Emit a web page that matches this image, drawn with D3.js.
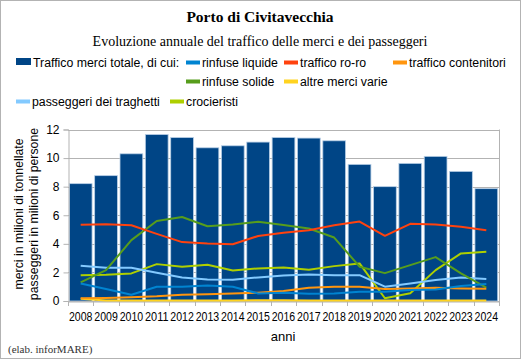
<!DOCTYPE html>
<html><head><meta charset="utf-8">
<script src="https://cdn.jsdelivr.net/npm/d3@7"></script>
<style>body{margin:0;background:#fff}svg{display:block}</style>
</head><body>
<svg id="c" width="521" height="359"></svg>
<script>
const years = ["2008","2009","2010","2011","2012","2013","2014","2015","2016","2017","2018","2019","2020","2021","2022","2023","2024"];
const totale = [8.21,8.77,10.30,11.65,11.44,10.72,10.86,11.12,11.44,11.40,11.21,9.56,8.00,9.63,10.12,9.07,7.86];
const liquide = [1.23,0.84,0.44,1.00,1.00,1.09,1.00,0.53,0.58,0.51,0.53,0.65,0.65,0.77,0.81,1.05,1.19];
const roro = [5.33,5.37,5.30,4.70,4.12,4.02,3.97,4.55,4.78,4.95,5.30,5.56,4.56,5.40,5.35,5.19,4.95];
const contenitori = [0.19,0.21,0.26,0.33,0.44,0.47,0.53,0.58,0.70,0.93,1.00,1.00,0.84,0.88,0.93,0.88,0.86];
const solide = [1.30,2.16,4.26,5.60,5.88,5.23,5.35,5.54,5.32,5.07,4.44,2.40,1.95,2.51,3.07,1.93,0.93];
const altre = [0.15,0.04,0.04,0.04,0.04,0.04,0.04,0.06,0.05,0.04,0.04,0.04,0.03,0.03,0.03,0.03,0.03];
const traghetti = [2.47,2.33,2.33,1.98,1.65,1.51,1.49,1.65,1.79,1.86,1.81,1.81,1.00,1.23,1.47,1.65,1.54];
const crocieristi = [1.81,1.83,1.93,2.58,2.40,2.54,2.14,2.28,2.34,2.19,2.44,2.63,0.19,0.54,2.16,3.33,3.44];
const yTicks = [0,2,4,6,8,10,12];

const seriesLines = [
  {name:"rinfuse liquide", values:liquide, color:"#0084d1"},
  {name:"traffico ro-ro", values:roro, color:"#ff420e"},
  {name:"traffico contenitori", values:contenitori, color:"#ff950e"},
  {name:"rinfuse solide", values:solide, color:"#579d1c"},
  {name:"passeggeri dei traghetti", values:traghetti, color:"#83caff"},
  {name:"crocieristi", values:crocieristi, color:"#aecf00"},
  {name:"altre merci varie", values:altre, color:"#ffd320"}
];

const svg = d3.select("#c");
svg.append("rect").attr("x",0.5).attr("y",0.5).attr("width",520).attr("height",358)
  .attr("fill","#fff").attr("stroke","#b3b3b3");

const L=68, R=499, T=129.5, B=301;
const xb = d3.scaleBand().domain(years).range([L,R]);
const y = d3.scaleLinear().domain([0,12]).range([B,T]);
const lf = "Liberation Sans, Arial, sans-serif";

// grid
svg.append("g").selectAll("line").data(yTicks).join("line")
  .attr("x1",L).attr("x2",R).attr("y1",d=>Math.round(y(d))+0.5).attr("y2",d=>Math.round(y(d))+0.5)
  .attr("stroke","#b3b3b3");
svg.append("line").attr("x1",R+0.5).attr("x2",R+0.5).attr("y1",T).attr("y2",B).attr("stroke","#b3b3b3");

// bars
svg.append("g").selectAll("rect").data(totale).join("rect")
  .attr("x",(d,i)=>xb(years[i])+1.3).attr("width",xb.bandwidth()-2.6)
  .attr("y",d=>y(d)).attr("height",d=>B-y(d))
  .attr("fill","#004586").attr("stroke","#b8cfe6").attr("stroke-width",0.8);

// axes
const ya = d3.axisLeft(y).tickValues(yTicks).tickSize(5).tickPadding(4);
const gy = svg.append("g").attr("transform",`translate(${L+0.5},0)`).call(ya);
gy.select(".domain").attr("stroke","#b3b3b3");
gy.selectAll(".tick line").attr("stroke","#b3b3b3");
gy.selectAll("text").attr("font-family",lf).attr("font-size",12).attr("fill","#000");

const xa = d3.axisBottom(xb).tickSize(0).tickPadding(11);
const gx = svg.append("g").attr("transform",`translate(0,${B+0.5})`).call(xa);
gx.select(".domain").attr("stroke","#b3b3b3");
gx.selectAll("text").attr("font-family",lf).attr("font-size",12).attr("fill","#000")
  .attr("textLength",23.5).attr("lengthAdjust","spacingAndGlyphs");
const bounds = years.map(d=>xb(d)).concat([R]);
svg.append("g").selectAll("line").data(bounds).join("line")
  .attr("x1",d=>Math.round(d)+0.5).attr("x2",d=>Math.round(d)+0.5).attr("y1",B).attr("y2",B+5)
  .attr("stroke","#b3b3b3");

// lines
const line = d3.line().x((d,i)=>xb(years[i])+xb.bandwidth()/2).y(d=>y(d));
seriesLines.slice().reverse().forEach(s=>{
  svg.append("path").datum(s.values).attr("d",line).attr("fill","none")
    .attr("stroke",s.color).attr("stroke-width",2).attr("stroke-linejoin","round");
});

// titles
svg.append("text").attr("x",260).attr("y",22).attr("text-anchor","middle")
  .attr("font-family","Liberation Serif, Times New Roman, serif").attr("font-weight","bold").attr("font-size",15.5)
  .text("Porto di Civitavecchia");
svg.append("text").attr("x",260).attr("y",46).attr("text-anchor","middle")
  .attr("font-family","Liberation Serif, Times New Roman, serif").attr("font-size",14)
  .text("Evoluzione annuale del traffico delle merci e dei passeggeri");

// legend
const leg = svg.append("g").attr("font-family",lf).attr("font-size",12.3);
leg.append("rect").attr("x",16).attr("y",58).attr("width",15).attr("height",7).attr("fill","#004586");
leg.append("text").attr("x",33).attr("y",67).text("Traffico merci totale, di cui:");
const legItems = [
  {s:0, x:186, y:62},{s:1, x:284, y:62},{s:2, x:393, y:62},
  {s:3, x:186, y:81},{s:6, x:284, y:81},
  {s:4, x:16, y:101},{s:5, x:170, y:101}
];
legItems.forEach(it=>{
  const s = seriesLines[it.s];
  leg.append("rect").attr("x",it.x).attr("y",it.y-1.5).attr("width",14).attr("height",4).attr("fill",s.color);
  leg.append("text").attr("x",it.x+16).attr("y",it.y+5).text(s.name);
});

// axis titles
const yl = svg.append("g").attr("font-family",lf).attr("font-size",12.3).attr("text-anchor","middle");
yl.append("text").attr("transform","translate(23,214) rotate(-90)").text("merci in milioni di tonnellate");
yl.append("text").attr("transform","translate(38,214) rotate(-90)").text("passeggeri in milioni di persone");
svg.append("text").attr("x",283).attr("y",341).attr("text-anchor","middle")
  .attr("font-family",lf).attr("font-size",13).text("anni");
svg.append("text").attr("x",8).attr("y",353)
  .attr("font-family","Liberation Serif, Times New Roman, serif").attr("font-size",11).attr("fill","#333")
  .text("(elab. inforMARE)");
</script>
</body></html>
